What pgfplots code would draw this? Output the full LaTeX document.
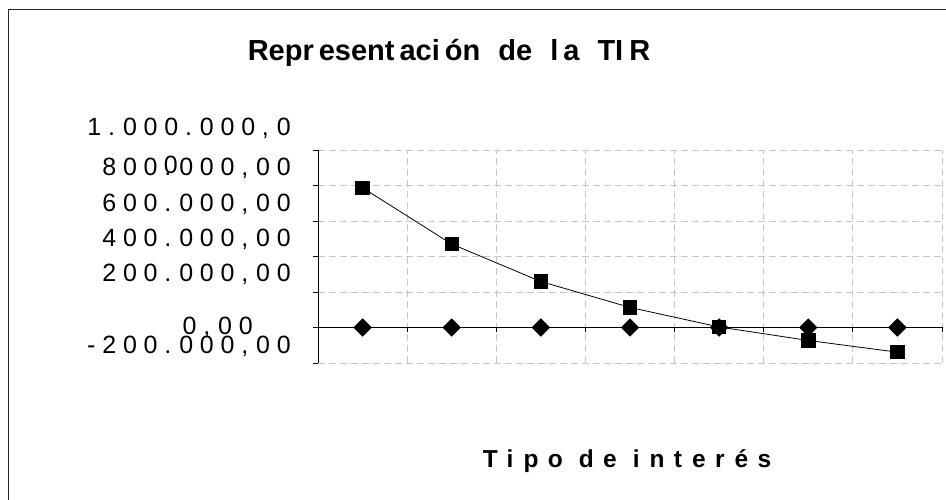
\documentclass[border=0pt]{standalone}
\usepackage{pgfplots}
\pgfplotsset{compat=1.18}
\usepackage{fontspec}
\setmainfont{Liberation Sans}
\newfontfamily\lblfont[LetterSpace=27]{Liberation Sans}
\newfontfamily\xlfont[LetterSpace=38]{Liberation Sans}
\newcommand{\pk}{\kern8bp}
\newcommand{\xk}{\kern10bp}
\begin{document}
\begin{tikzpicture}
\useasboundingbox (0,0) rectangle (946bp,500bp);
\draw[line width=1bp, black!85] (8bp,-10bp) |- (960bp,490bp);
\begin{axis}[
  at={(318bp,137bp)}, anchor=south west,
  scale only axis, width=624bp, height=213bp,
  xmin=0.5, xmax=7.5, ymin=-200000, ymax=1000000,
  axis x line*=middle, axis y line*=left,
  xtick={0.5,1.5,2.5,3.5,4.5,5.5,6.5,7.5}, xticklabels={},
  ytick={-200000,0,200000,400000,600000,800000,1000000},
  yticklabels={
    {\smash{\raisebox{9bp}{-\kern7bp 200.\pk000,\pk00}}},
    {\smash{\raisebox{-7bp}{0,\pk00}}\kern38bp},
    {\smash{\raisebox{10bp}{200.\pk000,\pk00}}},
    {\smash{\raisebox{10bp}{400.\pk000,\pk00}}},
    {\smash{\raisebox{9bp}{600.\pk000,\pk00}}},
    {\smash{\raisebox{10bp}{800.\pk000,\pk00}}},
    {\smash{\raisebox{14bp}{1.\pk000.\pk000,\pk0}}\llap{\smash{\raisebox{-24bp}{0}}\kern113bp}}
  },
  scaled y ticks=false,
  grid=major,
  grid style={gray!45, dash pattern=on 7bp off 4bp, line width=0.8bp},
  tick align=outside, major tick length=5bp,
  every tick/.style={black, line width=0.8bp},
  axis line style={black, line width=0.9bp},
  yticklabel style={anchor=east, inner sep=0pt, xshift=-22bp, font=\lblfont\fontsize{25bp}{30bp}\selectfont},
  clip=false,
]
\addplot[black, line width=1bp, mark=square*, mark size=6bp, mark options={rotate=45}]
  coordinates {(1,0) (2,0) (3,0) (4,0) (5,0) (6,0) (7,0)};
\addplot[black, line width=0.8bp, mark=square*, mark size=6.7bp]
  coordinates {(1,787000) (2,470000) (3,259000) (4,113000) (5,3000) (6,-73000) (7,-139000)};
\end{axis}
\node[anchor=base, font=\bfseries\fontsize{29bp}{34bp}\selectfont] at (449bp,439.3bp)
  {Repr\kern5bp esent\kern5bp aci\kern5bp ón \kern10bp de \kern10bp l\kern5bp a \kern10bp TI\kern6bp R};
\node[anchor=base, font=\xlfont\bfseries\fontsize{24.5bp}{29bp}\selectfont] at (627bp,32.3bp)
  {Ti\xk po de i\xk nt\xk er\xk és};
\end{tikzpicture}
\end{document}
